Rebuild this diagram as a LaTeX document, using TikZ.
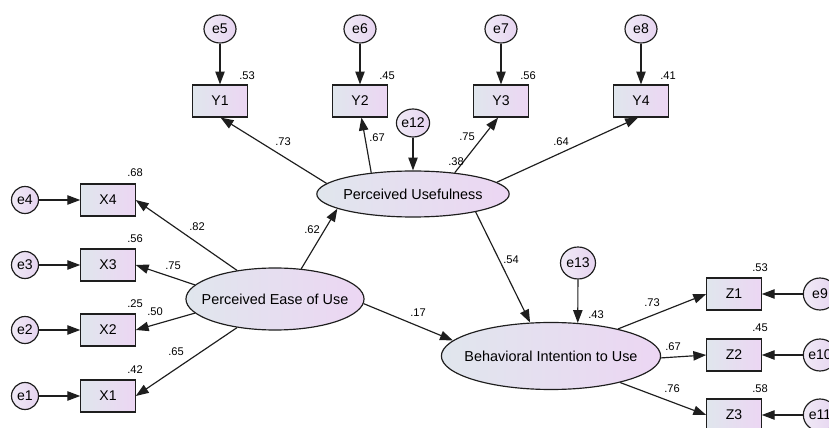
\documentclass[tikz,border=0pt]{standalone}
\usepackage{fontspec}
\setmainfont{Liberation Sans}
\usepackage{xcolor}
\usepackage{tikz}
\usetikzlibrary{arrows.meta, shapes.geometric}

\definecolor{fillL}{RGB}{224,230,237}
\definecolor{fillR}{RGB}{236,214,243}
\definecolor{errL}{RGB}{240,234,246}
\definecolor{errR}{RGB}{230,212,240}
\definecolor{edge}{RGB}{30,30,30}

\tikzset{
    obs/.style={draw=edge, line width=1pt, rectangle, minimum width=1.63cm,
        minimum height=0.96cm, left color=fillL, right color=fillR,
        font=\fontsize{12}{14}\selectfont},
    lat/.style={draw=edge, line width=1pt, ellipse, inner ysep=0pt,
        left color=fillL, right color=fillR, font=\fontsize{12.3}{14}\selectfont},
    err/.style={draw=edge, line width=1pt, ellipse, inner sep=0pt,
        minimum width=0.96cm, minimum height=0.84cm,
        left color=errL, right color=errR, font=\fontsize{12}{14}\selectfont},
    path/.style={draw=edge, line width=1pt, -{Triangle[length=11pt,width=8pt]}},
    lbl/.style={inner sep=0pt, font=\fontsize{9.5}{11}\selectfont}
}

\begin{document}
\begin{tikzpicture}[x=0.03cm, y=-0.03cm]
    \useasboundingbox (0,0) rectangle (829,428);

    % latent variables
    \node[lat, inner xsep=-0.05cm, minimum width=5.7cm, minimum height=1.38cm] (pu)   at (413,194) {Perceived Usefulness};
    \node[lat, inner xsep=-0.31cm, minimum width=5.34cm, minimum height=1.86cm] (peou) at (275,299) {Perceived Ease of Use};
    \node[lat, inner xsep=-0.27cm, minimum width=6.54cm, minimum height=2.01cm] (bi)   at (551,356) {Behavioral Intention to Use};

    % indicators
    \node[obs] (y1) at (220,101) {Y1};
    \node[obs] (y2) at (360,101) {Y2};
    \node[obs] (y3) at (501,101) {Y3};
    \node[obs] (y4) at (641,101) {Y4};
    \node[obs] (x4) at (108,200) {X4};
    \node[obs] (x3) at (108,265) {X3};
    \node[obs] (x2) at (108,330) {X2};
    \node[obs] (x1) at (108,396) {X1};
    \node[obs] (z1) at (734,294) {Z1};
    \node[obs] (z2) at (734,355) {Z2};
    \node[obs] (z3) at (734,415) {Z3};

    % error terms
    \node[err] (e5) at (220,29) {e5};
    \node[err] (e6) at (360,29) {e6};
    \node[err] (e7) at (501,29) {e7};
    \node[err] (e8) at (641,29) {e8};
    \node[err, minimum width=0.81cm, minimum height=0.81cm] (e4) at (25,200) {e4};
    \node[err, minimum width=0.81cm, minimum height=0.81cm] (e3) at (25,265) {e3};
    \node[err, minimum width=0.81cm, minimum height=0.81cm] (e2) at (25,330) {e2};
    \node[err, minimum width=0.81cm, minimum height=0.81cm] (e1) at (25,396) {e1};
    \node[err, minimum width=1cm, minimum height=0.96cm] (e9)  at (820,294) {e9};
    \node[err, minimum width=1cm, minimum height=0.96cm] (e10) at (820,355) {e10};
    \node[err, minimum width=1cm, minimum height=0.96cm] (e11) at (820,415) {e11};
    \node[err] (e12) at (413,123) {e12};
    \node[err, minimum width=1.05cm, minimum height=0.96cm] (e13) at (578,263) {e13};

    % errors to indicators
    \foreach \e/\v in {e5/y1, e6/y2, e7/y3, e8/y4, e4/x4, e3/x3, e2/x2, e1/x1,
                       e9/z1, e10/z2, e11/z3}
        \draw[path] (\e) -- (\v);

    % structural paths
    \draw[path] (e12) -- (pu);
    \draw[path] (e13) -- (bi.51);
    \draw[path] (peou.49) -- (pu.-169);
    \draw[path] (peou.-3) -- (bi.171);
    \draw[path] (pu.-16) -- (bi.122);

    % loadings
    \draw[path] (pu.173)  -- (y1.-88);
    \draw[path] (pu.153)  -- (y2.-85);
    \draw[path] (pu.27)   -- (y3.-100);
    \draw[path] (pu.8)    -- (y4.-100);
    \draw[path] (peou.143)  -- (x4.east);
    \draw[path] (peou.170)  -- (x3.east);
    \draw[path] (peou.-170) -- (x2.east);
    \draw[path] (peou.-143) -- (x1.east);
    \draw[path] (bi.22)  -- (z1.west);
    \draw[path] (bi.-1)  -- (z2.west);
    \draw[path] (bi.-21) -- (z3.west);

    % estimates
    \foreach \n/\p/\t in {r1/{247,76}/.53, r2/{387,76}/.45, r3/{528,76}/.56, r4/{668,76}/.41,
            l1/{283,142}/.73, l2/{377,138}/.67, l3/{467,137}/.75, s1/{456,162}/.38, l4/{561,142}/.64,
            r5/{135,173}/.68, r6/{135,239}/.56, r7/{135,304}/.25, r8/{135,370}/.42,
            l5/{197,227}/.82, l6/{173,266}/.75, l7/{155,312}/.50, l8/{176,352}/.65,
            b1/{312,230}/.62, b2/{418,313}/.17, b3/{511,260}/.54, s2/{596,315}/.43,
            l9/{652,303}/.73, l10/{673,347}/.67, l11/{672,389}/.76,
            r9/{760,268}/.53, r10/{760,328}/.45, r11/{760,389}/.58}
        \node[lbl] (\n) at (\p) {\t};
\end{tikzpicture}
\end{document}
